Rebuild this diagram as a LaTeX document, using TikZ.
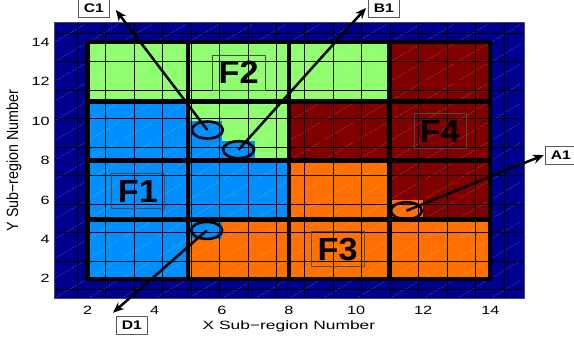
\documentclass[tikz,border=0pt]{standalone}
\usepackage{fontspec}
\setmainfont{Liberation Sans}
\usetikzlibrary{arrows.meta,shapes.geometric}
\definecolor{fnavy}{rgb}{0,0,0.56}
\definecolor{fblue}{rgb}{0,0.56,1}
\definecolor{fgreen}{rgb}{0.56,1,0.44}
\definecolor{forange}{rgb}{1,0.44,0}
\definecolor{fred}{rgb}{0.5,0,0}
\begin{document}
\begin{tikzpicture}[x=33.56pt,y=19.69pt,line join=round,>={Stealth[length=11pt,width=9pt]}]
	\tikzset{every node/.style={font=\fontsize{12}{12}\selectfont},
		hatch/.style={white,opacity=0.35,line width=0.3pt,dash pattern=on 2pt off 1pt},
		region/.style={line width=4.2pt,line cap=rect},
		spot/.style={ellipse,draw,line width=2.6pt,minimum width=31pt,minimum height=17pt,inner sep=0pt},
		tag/.style={draw=black!65,fill=white,font=\bfseries\fontsize{12.5}{12.5}\selectfont,xscale=1.25,inner sep=0pt,minimum width=25pt,minimum height=18pt},
		flabel/.style={draw=black!70,line width=0.4pt,font=\bfseries\fontsize{32}{32}\selectfont,xscale=1.07,inner sep=0pt,minimum width=49pt,minimum height=35pt},
		pointer/.style={->,line width=2.5pt},
		tick/.style={xscale=1.35,inner sep=0pt}}
	\useasboundingbox (-0.609,-1.064) rectangle (16.495,16.153);
	% cells
	\fill[fnavy] (1,1) rectangle (15,15);
	\foreach \bx/\by/\c in {0/3/fgreen,1/3/fgreen,2/3/fgreen,3/3/fred,
		0/2/fblue,1/2/fgreen,2/2/fred,3/2/fred,
		0/1/fblue,1/1/fblue,2/1/forange,3/1/fred,
		0/0/fblue,1/0/forange,2/0/forange,3/0/forange}
	\fill[\c] ({2+3*\bx},{2+3*\by}) rectangle ++(3,3);
	\foreach \x/\y/\c in {5/9/fblue,5/8/fblue,6/8/fblue,11/5/forange,5/4/fblue}
	\fill[\c] (\x,\y) rectangle ++(1,1);
	\foreach \x in {1,...,14}
	\foreach \y in {1,...,14}
	\draw[hatch] (\x+0.08,\y+0.08)--(\x+0.92,\y+0.92);
	\draw[line width=1pt] (1,1) grid (15,15);
	\foreach \t in {2,5,8,11,14}
	{\draw[region] (\t,2)--(\t,14);
	\draw[region] (2,\t)--(14,\t);}
	\draw[black!70,line width=0.6pt] (1,1) rectangle (15,15);
	% axes
	\foreach \x in {2,4,...,14}
	\node[tick] (xt\x) at (\x,0.41) {\x};
	\foreach \y in {2,4,...,14}
	\node[tick,anchor=east] (yt\y) at (0.88,\y) {\y};
	\node[xscale=1.45] (xlab) at (8,-0.40) {X Sub−region Number};
	\node[rotate=90,xscale=1.19,yscale=1.35] (ylab) at (-0.19,8) {Y Sub−region Number};
	% feature labels
	\node[flabel] (f1) at (3.5,6.45) {F1};
	\node[flabel] (f2) at (6.5,12.47) {F2};
	\node[flabel] (f3) at (9.45,3.5) {F3};
	\node[flabel] (f4) at (12.5,9.5) {F4};
	% marked cells
	\node[spot] (a1) at (11.5,5.45) {};
	\node[spot] (b1) at (6.5,8.55) {};
	\node[spot] (c1) at (5.57,9.55) {};
	\node[spot] (d1) at (5.55,4.45) {};
	\node[tag] (a1lab) at (16.1,8.28) {A1};
	\node[tag] (b1lab) at (10.83,15.75) {B1};
	\node[tag] (c1lab) at (2.19,15.75) {C1};
	\node[tag] (d1lab) at (3.32,-0.35) {D1};
	\draw[pointer] (a1.center)--([xshift=-1pt]a1lab.west);
	\draw[pointer] (b1.center)--([xshift=-2pt]b1lab.west);
	\draw[pointer] (c1.center)--([xshift=6pt,yshift=-2pt]c1lab.east);
	\draw[pointer] (d1.center)--([xshift=-3pt,yshift=3pt]d1lab.north west);
\end{tikzpicture}
\end{document}
